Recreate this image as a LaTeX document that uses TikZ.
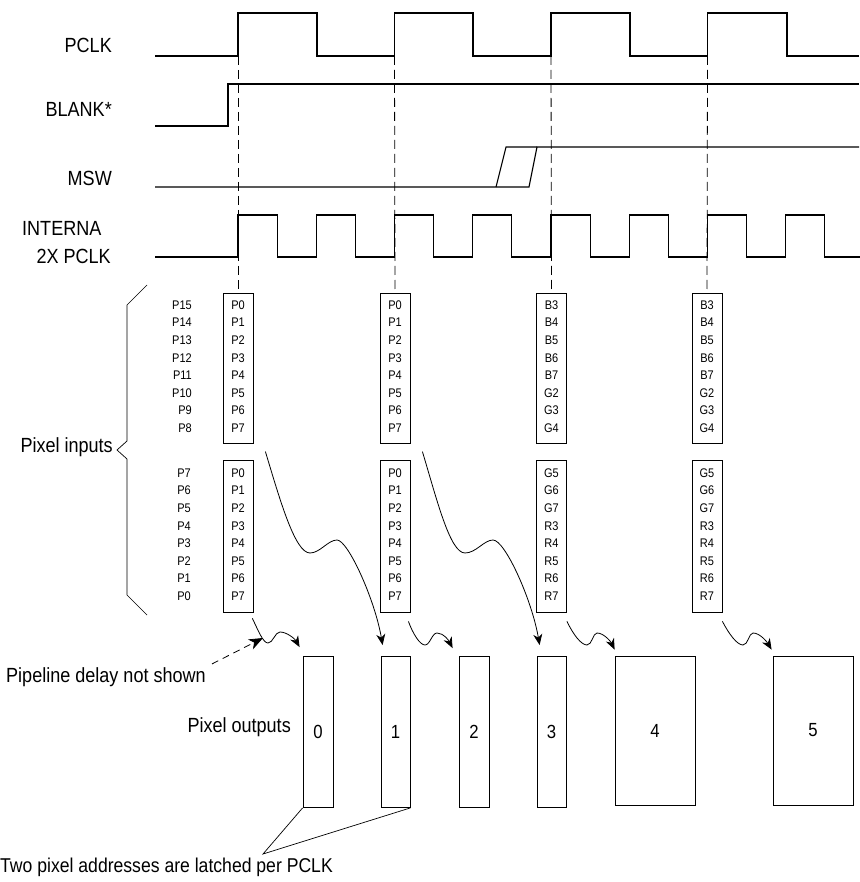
\documentclass[tikz,border=0pt]{standalone}
\usepackage{fontspec}
\setmainfont[FakeStretch=0.88]{Liberation Sans}
\usetikzlibrary{arrows.meta}

\tikzset{
  sig/.style={line width=1.1pt},
  guide/.style={line width=0.8pt, dash pattern=on 9pt off 5pt},
  inbox/.style={draw, line width=0.8pt, minimum width=30pt, minimum height=150pt, inner sep=0pt},
  outbox/.style={draw, line width=0.8pt, minimum height=151pt, inner sep=0pt, font=\fontsize{19}{21}\selectfont},
  lbl/.style={inner sep=0pt, font=\fontsize{20.5}{24}\selectfont},
  bit/.style={inner sep=0pt, font=\fontsize{12.5}{14}\selectfont},
  flow/.style={line width=0.8pt, -{Stealth[length=11pt, width=9pt, inset=3.5pt]}},
}

\begin{document}
\begin{tikzpicture}[x=1pt, y=-1pt]
    \useasboundingbox (0,0) rectangle (859,882); % 画布大小

    \node[lbl, anchor=east] (pclk) at (112,45) {PCLK}; % 信号名
    \node[lbl, anchor=east] (blank) at (112,109) {BLANK*};
    \node[lbl, anchor=east] (msw) at (112,178) {MSW};
    \node[lbl, anchor=west] (intl) at (22,228) {INTERNA};
    \node[lbl, anchor=east] (dbl) at (111,256) {2X PCLK};

    \draw[sig] (155,56) -- (238,56) -- (238,13) -- (317,13) -- (317,56) -- (394.5,56) -- (394.5,13) -- (473,13) -- (473,56)
        -- (551,56) -- (551,13) -- (630,13) -- (630,56) -- (707.5,56) -- (707.5,13) -- (787,13) -- (787,56) -- (859,56); % PCLK
    \draw[sig] (155,126) -- (228,126) -- (228,84) -- (859,84); % BLANK*
    \draw[sig] (155,187) -- (529,187) -- (537,147) -- (859,147); % MSW
    \draw[sig] (496,187) -- (506,147) -- (537,147);
    \draw[sig] (155,257) -- (238,257) foreach \k in {0,...,7} { -- ({238+78.25*\k},215) -- ++(39.125,0) -- ++(0,42) -- ++(39.125,0) }; % 2X PCLK

    \node[inbox] (hiA) at (238,368) {}; % 输入寄存器
    \node[inbox, minimum height=152pt] (loA) at (238,536) {};
    \node[inbox] (hiB) at (395,368) {};
    \node[inbox, minimum height=152pt] (loB) at (395,536) {};
    \node[inbox] (hiC) at (551.5,368) {};
    \node[inbox, minimum height=152pt] (loC) at (551.5,536) {};
    \node[inbox] (hiD) at (707,368) {};
    \node[inbox, minimum height=152pt] (loD) at (707,536) {};

    \foreach \x/\n in {238/A, 394.5/B, 551/C, 707.5/D}
        \draw[guide] (\x,56) -- (hi\n.north); % 虚线对齐

    \foreach \t [count=\i from 0] in {P15,P14,P13,P12,P11,P10,P9,P8}
        \node[bit, anchor=east] at (192,305+17.6*\i) {\t};
    \foreach \t [count=\i from 0] in {P7,P6,P5,P4,P3,P2,P1,P0}
        \node[bit, anchor=east] at (191,473+17.6*\i) {\t};
    \foreach \t [count=\i from 0] in {P0,P1,P2,P3,P4,P5,P6,P7} {
        \node[bit] at (238,305+17.6*\i) {\t};
        \node[bit] at (395,305+17.6*\i) {\t};
        \node[bit] at (238,473+17.6*\i) {\t};
        \node[bit] at (395,473+17.6*\i) {\t};
    }
    \foreach \t [count=\i from 0] in {B3,B4,B5,B6,B7,G2,G3,G4} {
        \node[bit] at (551.5,305+17.6*\i) {\t};
        \node[bit] at (707,305+17.6*\i) {\t};
    }
    \foreach \t [count=\i from 0] in {G5,G6,G7,R3,R4,R5,R6,R7} {
        \node[bit] at (551.5,473+17.6*\i) {\t};
        \node[bit] at (707,473+17.6*\i) {\t};
    }

    \draw[line width=0.7pt] (147,285) -- (127,305) -- (127,441) -- (117,450) -- (127,459) -- (127,595) -- (147,615); % 括号
    \node[lbl, anchor=east] (pin) at (113,447) {Pixel inputs};

    \node[outbox, minimum width=30pt] (out0) at (318,732) {0}; % 输出像素
    \node[outbox, minimum width=29pt] (out1) at (395.5,732) {1};
    \node[outbox, minimum width=30pt] (out2) at (474,732) {2};
    \node[outbox, minimum width=29pt] (out3) at (551.5,732) {3};
    \node[outbox, minimum width=80pt, minimum height=149pt] (out4) at (655,730.5) {4};
    \node[outbox, minimum width=80pt, minimum height=149pt] (out5) at (813,730.5) {5};
    \node[lbl, anchor=east] (pout) at (291,727) {Pixel outputs};

    \draw[flow] ([shift={(12,-8)}]loA.north east) .. controls (280,500) and (295,553) .. (310,553)
        .. controls (320,553) and (328,540) .. (337,540) .. controls (348,540) and (375,600) .. ([shift={(2,-11)}]out1.north west);
    \draw[flow] ([shift={(12,-8)}]loB.north east) .. controls (437,500) and (450,553) .. (465,553)
        .. controls (476,553) and (484,540) .. (493,540) .. controls (505,540) and (532,600) .. ([shift={(3,-11)}]out3.north west);

    \draw[flow] ([shift={(-1,6)}]loA.south east) .. controls (258,630) and (263,643) .. (268,643)
        .. controls (273,643) and (275,632) .. (280,632) .. controls (287,632) and (295,639) .. ([shift={(-3,-9)}]out0.north west);
    \draw[flow] ([shift={(-2,9)}]loB.south east) .. controls (413,634) and (420,645) .. (425,645)
        .. controls (430,645) and (432,633) .. (437,633) .. controls (444,633) and (449,641) .. ([shift={(-6,-8)}]out2.north west);
    \draw[flow] ([shift={(0,9)}]loC.south east) .. controls (573,634) and (581,645) .. (587,645)
        .. controls (592,645) and (593,633) .. (597,633) .. controls (604,633) and (611,642) .. ([shift={(0,-6)}]out4.north west);
    \draw[flow] ([shift={(0,9)}]loD.south east) .. controls (729,634) and (737,645) .. (743,645)
        .. controls (748,645) and (749,633) .. (753,633) .. controls (760,633) and (767,642) .. ([shift={(-1,-6)}]out5.north west);

    \node[lbl, anchor=base west] (pipe) at (6,682) {Pipeline delay not shown}; % 注释
    \coordinate (late) at (263,638);
    \draw[line width=0.8pt, dash pattern=on 7pt off 5pt, -{Stealth[length=14pt, width=11pt, inset=4pt]}] ([shift={(6,-3)}]pipe.north east) -- (late);

    \node[lbl, anchor=base west, font=\fontsize{20}{24}\selectfont] (latch) at (0,872) {Two pixel addresses are latched per PCLK};
    \coordinate (apex) at (263,854);
    \draw[line width=0.7pt] (out0.south west) -- (apex) -- (out1.south east);
\end{tikzpicture}
\end{document}
